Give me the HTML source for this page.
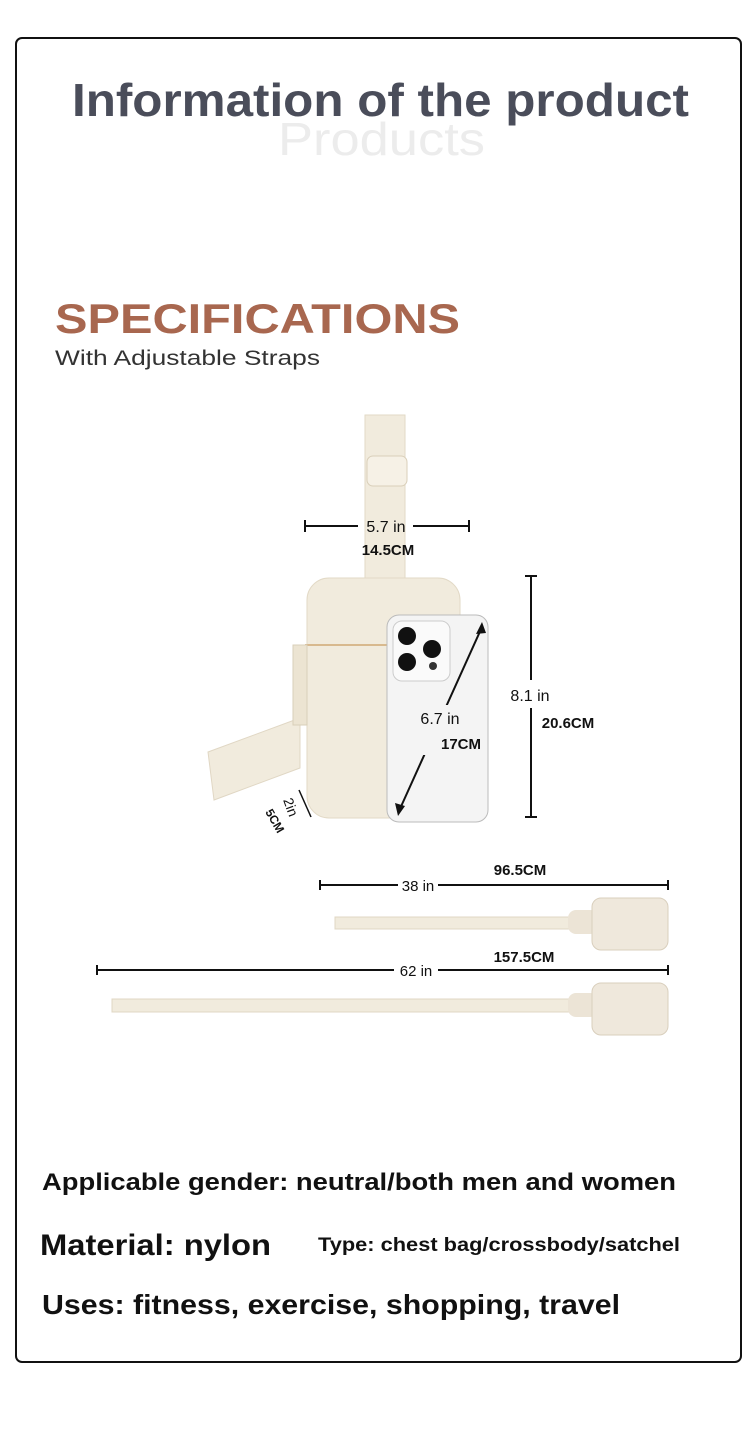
<!DOCTYPE html>
<html><head><meta charset="utf-8"><style>
body{margin:0;background:#fff;}
svg{display:block;font-family:"Liberation Sans","DejaVu Sans",sans-serif;}
</style></head><body>
<svg width="750" height="1445" viewBox="0 0 750 1445" xmlns="http://www.w3.org/2000/svg">
<rect x="16" y="38" width="725" height="1324" rx="6" fill="#fff" stroke="#111" stroke-width="2"/>
<text x="278" y="155" font-size="46" fill="#ececec" textLength="207" lengthAdjust="spacingAndGlyphs">Products</text>
<text x="72" y="116" font-size="46" font-weight="bold" fill="#4a4d5a" textLength="617" lengthAdjust="spacingAndGlyphs">Information of the product</text>
<text x="55" y="333" font-size="42" font-weight="bold" fill="#a8674f" textLength="405" lengthAdjust="spacingAndGlyphs">SPECIFICATIONS</text>
<text x="55" y="365" font-size="21" fill="#333" textLength="265" lengthAdjust="spacingAndGlyphs">With Adjustable Straps</text>
<!-- bag -->
<path d="M300 718 L208 752 L214 800 L300 768 Z" fill="#f1ebdd" stroke="#e0d7c4"/>
<rect x="365" y="415" width="40" height="170" fill="#f1ebdd" stroke="#e2d9c6"/>
<rect x="367" y="456" width="40" height="30" rx="6" fill="#f6f1e6" stroke="#d9cfb9"/>
<rect x="307" y="578" width="153" height="240" rx="22" fill="#f1ebdd" stroke="#e2d9c6"/>
<line x1="305" y1="645" x2="390" y2="645" stroke="#d8b98e" stroke-width="2"/>
<rect x="293" y="645" width="14" height="80" fill="#ece4d2" stroke="#d9cfb9"/>
<!-- phone -->
<rect x="387" y="615" width="101" height="207" rx="12" fill="#f4f4f4" stroke="#bbb"/>
<rect x="393" y="621" width="57" height="60" rx="9" fill="#fafafa" stroke="#ccc"/>
<circle cx="407" cy="636" r="9" fill="#111"/>
<circle cx="432" cy="649" r="9" fill="#111"/>
<circle cx="407" cy="662" r="9" fill="#111"/>
<circle cx="433" cy="666" r="4" fill="#333"/>
<line x1="399" y1="811" x2="482" y2="627" stroke="#111" stroke-width="2"/>
<path d="M482 622 L476 634 L486 633 Z M398 816 L395 803 L405 806 Z" fill="#111"/>
<rect x="417" y="705" width="50" height="50" fill="#f4f4f4"/>
<text x="440" y="724" text-anchor="middle" font-size="16" fill="#111">6.7 in</text>
<text x="461" y="749" text-anchor="middle" font-size="15" font-weight="bold" fill="#111">17CM</text>
<!-- width dim -->
<line x1="305" y1="526" x2="358" y2="526" stroke="#111" stroke-width="2"/>
<line x1="413" y1="526" x2="469" y2="526" stroke="#111" stroke-width="2"/>
<line x1="305" y1="520" x2="305" y2="532" stroke="#111" stroke-width="2"/>
<line x1="469" y1="520" x2="469" y2="532" stroke="#111" stroke-width="2"/>
<text x="386" y="532" text-anchor="middle" font-size="16" fill="#111">5.7 in</text>
<text x="388" y="555" text-anchor="middle" font-size="15" font-weight="bold" fill="#111">14.5CM</text>
<!-- height dim -->
<line x1="531" y1="576" x2="531" y2="680" stroke="#111" stroke-width="2"/>
<line x1="531" y1="708" x2="531" y2="817" stroke="#111" stroke-width="2"/>
<line x1="525" y1="576" x2="537" y2="576" stroke="#111" stroke-width="2"/>
<line x1="525" y1="817" x2="537" y2="817" stroke="#111" stroke-width="2"/>
<text x="530" y="701" text-anchor="middle" font-size="16" fill="#111">8.1 in</text>
<text x="568" y="728" text-anchor="middle" font-size="15" font-weight="bold" fill="#111">20.6CM</text>
<line x1="299" y1="790" x2="311" y2="817" stroke="#111" stroke-width="1.5"/>
<text x="283" y="800" font-size="14" fill="#111" transform="rotate(70 283 800)">2in</text>
<text x="265" y="812" font-size="12" font-weight="bold" fill="#111" transform="rotate(60 265 812)">5CM</text>
<!-- 38 in -->
<line x1="320" y1="885" x2="398" y2="885" stroke="#111" stroke-width="2"/>
<line x1="438" y1="885" x2="668" y2="885" stroke="#111" stroke-width="2"/>
<line x1="320" y1="880" x2="320" y2="890" stroke="#111" stroke-width="2"/>
<line x1="668" y1="880" x2="668" y2="890" stroke="#111" stroke-width="2"/>
<text x="418" y="891" text-anchor="middle" font-size="15" fill="#111">38 in</text>
<text x="520" y="875" text-anchor="middle" font-size="15" font-weight="bold" fill="#111">96.5CM</text>
<rect x="335" y="917" width="240" height="12" fill="#f1ebdd" stroke="#e0d7c4"/>
<rect x="568" y="910" width="30" height="24" rx="8" fill="#ece4d6"/>
<rect x="592" y="898" width="76" height="52" rx="9" fill="#efe8dc" stroke="#d9cfbd"/>
<!-- 62 in -->
<line x1="97" y1="970" x2="394" y2="970" stroke="#111" stroke-width="2"/>
<line x1="438" y1="970" x2="668" y2="970" stroke="#111" stroke-width="2"/>
<line x1="97" y1="965" x2="97" y2="975" stroke="#111" stroke-width="2"/>
<line x1="668" y1="965" x2="668" y2="975" stroke="#111" stroke-width="2"/>
<text x="416" y="976" text-anchor="middle" font-size="15" fill="#111">62 in</text>
<text x="524" y="962" text-anchor="middle" font-size="15" font-weight="bold" fill="#111">157.5CM</text>
<rect x="112" y="999" width="463" height="13" fill="#f1ebdd" stroke="#e0d7c4"/>
<rect x="568" y="993" width="30" height="24" rx="8" fill="#ece4d6"/>
<rect x="592" y="983" width="76" height="52" rx="9" fill="#efe8dc" stroke="#d9cfbd"/>
<!-- text -->
<text x="42" y="1190" font-size="24" font-weight="bold" fill="#111" textLength="634" lengthAdjust="spacingAndGlyphs">Applicable gender: neutral/both men and women</text>
<text x="40" y="1255" font-size="30" font-weight="bold" fill="#111" textLength="231" lengthAdjust="spacingAndGlyphs">Material: nylon</text>
<text x="318" y="1251" font-size="19" font-weight="bold" fill="#111" textLength="362" lengthAdjust="spacingAndGlyphs">Type: chest bag/crossbody/satchel</text>
<text x="42" y="1314" font-size="28" font-weight="bold" fill="#111" textLength="578" lengthAdjust="spacingAndGlyphs">Uses: fitness, exercise, shopping, travel</text>
</svg>
</body></html>
